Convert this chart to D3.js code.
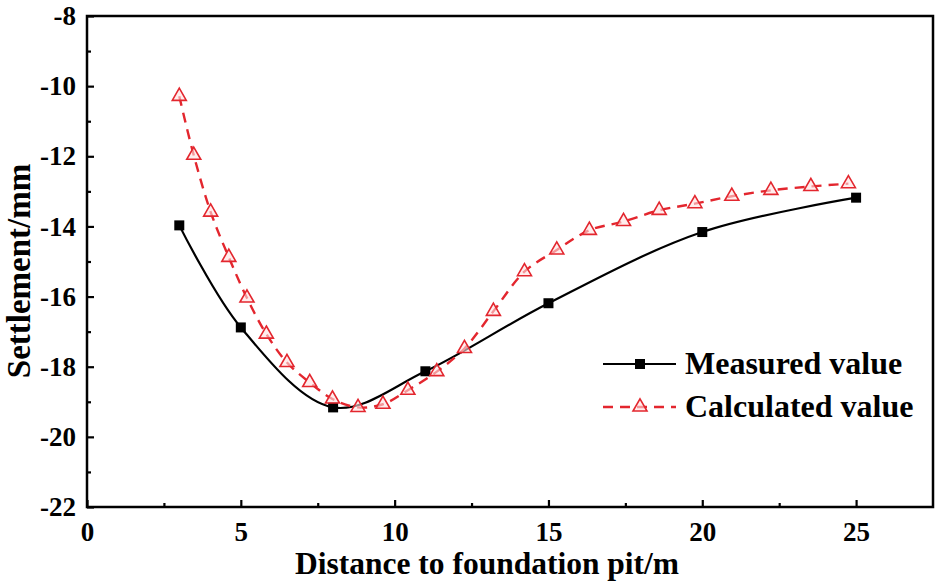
<!DOCTYPE html>
<html>
<head>
<meta charset="utf-8">
<script src="https://cdn.jsdelivr.net/npm/d3@7"></script>
<style>
  body { margin: 0; background: #fff; }
  svg text { font-family: "Liberation Serif", "Times New Roman", serif; font-weight: bold; }
</style>
</head>
<body>
<svg id="chart"></svg>
<script>
const WIDTH  = 940;
const HEIGHT = 586;
const margin = { top: 16, right: 7, bottom: 79, left: 87 };

// Measured settlement
const measuredX = [3, 5, 8, 11, 15, 20, 25];
const measuredY = [-13.97, -16.88, -19.16, -18.13, -16.19, -14.16, -13.18];

// Calculated settlement
const calcX = [3.0, 3.47, 4.02, 4.61, 5.2, 5.83, 6.5, 7.24, 7.98, 8.81, 9.62, 10.43, 11.37,
               12.27, 13.21, 14.22, 15.27, 16.33, 17.44, 18.6, 19.76, 20.96, 22.23, 23.53, 24.75];
const calcY = [-10.29, -11.97, -13.59, -14.88, -16.04, -17.07, -17.88, -18.45, -18.92, -19.16,
               -19.07, -18.67, -18.14, -17.48, -16.42, -15.29, -14.67, -14.11, -13.86, -13.54,
               -13.35, -13.14, -12.97, -12.86, -12.78];

const xTicks = [0, 5, 10, 15, 20, 25];
const xMinor = [2.5, 7.5, 12.5, 17.5, 22.5];
const yTicks = [-22, -20, -18, -16, -14, -12, -10, -8];
const yMinor = [-21, -19, -17, -15, -13, -11, -9];

const seriesNames = ["Measured value", "Calculated value"];
const RED = "#e3262e";

const svg = d3.select("#chart").attr("width", WIDTH).attr("height", HEIGHT);

const x = d3.scaleLinear().domain([0, 27.5]).range([margin.left, WIDTH - margin.right]);
const y = d3.scaleLinear().domain([-22, -8]).range([HEIGHT - margin.bottom, margin.top]);

// Tick label styling shared by both axes
function styleLabels(g) {
  g.selectAll("text")
    .style("font-size", "27px")
    .style("font-weight", "bold")
    .style("font-family", "'Liberation Serif', serif")
    .attr("fill", "#000");
}

// Axes - ticks point inwards
function addAxes() {
  const bottom = HEIGHT - margin.bottom;
  svg.append("g")
    .attr("transform", "translate(0," + bottom + ")")
    .call(d3.axisBottom(x).tickValues(xTicks).tickSize(-7).tickPadding(15).tickFormat(d3.format("d")))
    .call(g => g.select(".domain").remove())
    .call(g => g.selectAll(".tick line").attr("stroke-width", 2.2))
    .call(styleLabels);
  svg.append("g")
    .attr("transform", "translate(0," + bottom + ")")
    .call(d3.axisBottom(x).tickValues(xMinor).tickSize(-4).tickFormat(""))
    .call(g => g.select(".domain").remove())
    .call(g => g.selectAll(".tick line").attr("stroke-width", 2.2));

  svg.append("g")
    .attr("transform", "translate(" + margin.left + ",0)")
    .call(d3.axisLeft(y).tickValues(yTicks).tickSize(-7).tickPadding(11).tickFormat(d => String(d).replace("\u2212", "-")))
    .call(g => g.select(".domain").remove())
    .call(g => g.selectAll(".tick line").attr("stroke-width", 2.2))
    .call(styleLabels);
  svg.append("g")
    .attr("transform", "translate(" + margin.left + ",0)")
    .call(d3.axisLeft(y).tickValues(yMinor).tickSize(-4).tickFormat(""))
    .call(g => g.select(".domain").remove())
    .call(g => g.selectAll(".tick line").attr("stroke-width", 2.2));

  // Frame round the plot
  svg.append("rect")
    .attr("x", margin.left).attr("y", margin.top)
    .attr("width", WIDTH - margin.left - margin.right)
    .attr("height", HEIGHT - margin.top - margin.bottom)
    .attr("fill", "none").attr("stroke", "#000").attr("stroke-width", 2.5);

  // Axis titles
  svg.append("text")
    .attr("x", 487)
    .attr("y", 574)
    .attr("text-anchor", "middle")
    .style("font-size", "31.5px")
    .text("Distance to foundation pit/m");
  svg.append("text")
    .attr("transform", "translate(30,271) rotate(-90)")
    .attr("text-anchor", "middle")
    .style("font-size", "33px")
    .text("Settlement/mm");
}

function triangle(sel) {
  return sel.append("path")
    .attr("d", d3.symbol().type(d3.symbolTriangle).size(85)())
    .attr("fill", "rgba(255,225,225,0.6)")
    .attr("stroke", RED)
    .attr("stroke-width", 1.6);
}

function drawSeries() {
  const line = d3.line().x(d => x(d[0])).y(d => y(d[1])).curve(d3.curveCatmullRom.alpha(0.5));
  const meas = measuredX.map((v, i) => [v, measuredY[i]]);
  const calc = calcX.map((v, i) => [v, calcY[i]]);

  svg.append("path").datum(meas)
    .attr("d", line).attr("fill", "none").attr("stroke", "#000").attr("stroke-width", 2.2);
  svg.selectAll(".sq").data(meas).enter().append("rect")
    .attr("class", "sq")
    .attr("x", d => x(d[0]) - 5).attr("y", d => y(d[1]) - 5)
    .attr("width", 10).attr("height", 10).attr("fill", "#000");

  svg.append("path").datum(calc)
    .attr("d", line).attr("fill", "none").attr("stroke", RED)
    .attr("stroke-width", 2.4).attr("stroke-dasharray", "10,7");
  svg.selectAll(".tri").data(calc).enter().append("g")
    .attr("class", "tri")
    .attr("transform", d => "translate(" + x(d[0]) + "," + y(d[1]) + ")")
    .call(triangle);
}

function addLegend() {
  const lx1 = 603, lx2 = 676, mid = 640;
  const g = svg.append("g");
  g.append("line").attr("x1", lx1).attr("x2", lx2).attr("y1", 364).attr("y2", 364)
    .attr("stroke", "#000").attr("stroke-width", 2.2);
  g.append("rect").attr("x", mid - 5).attr("y", 359).attr("width", 10).attr("height", 10).attr("fill", "#000");
  g.append("text").attr("x", 685).attr("y", 374).style("font-size", "32px").text(seriesNames[0]);

  g.append("line").attr("x1", lx1).attr("x2", lx2).attr("y1", 407).attr("y2", 407)
    .attr("stroke", RED).attr("stroke-width", 2.4).attr("stroke-dasharray", "10,7");
  triangle(g.append("g").attr("transform", "translate(" + mid + ",407)"));
  g.append("text").attr("x", 685).attr("y", 417).style("font-size", "32px").text(seriesNames[1]);
}

addAxes();
drawSeries();
addLegend();
</script>
</body>
</html>
